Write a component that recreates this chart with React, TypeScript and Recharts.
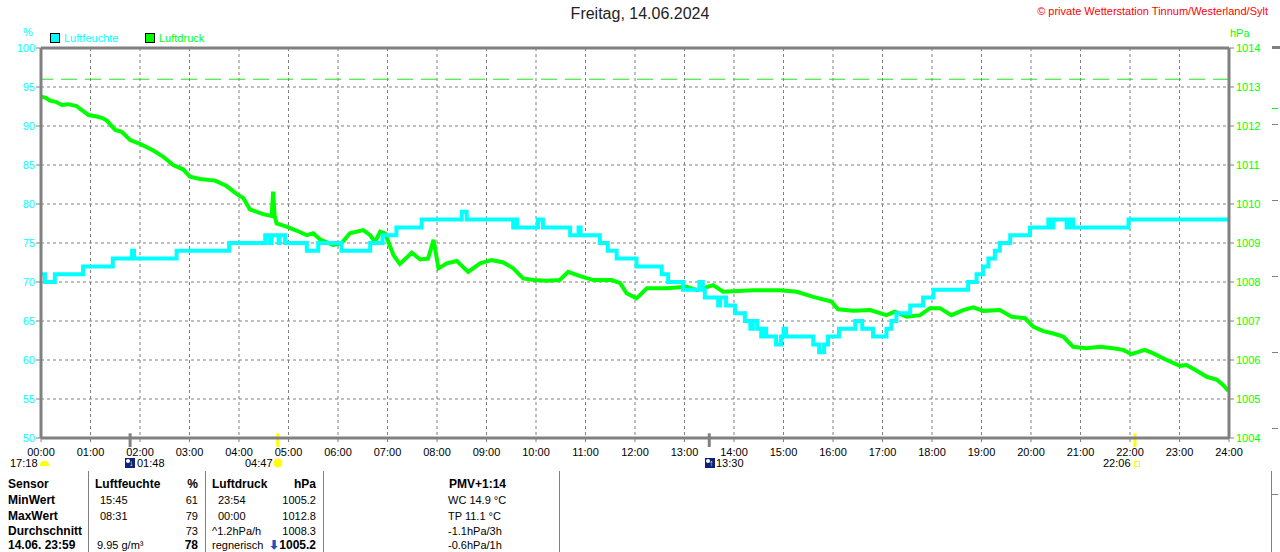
import React from 'react';
import { LineChart, Line, XAxis, YAxis, CartesianGrid, ReferenceLine } from 'recharts';

// humidity (%) steps: hour of day -> value
const humTimes = [
  0, 0.08, 0.28, 0.85, 1.45, 1.84, 1.88, 2.74, 3.8, 4.53, 4.62, 4.66, 4.8, 4.82, 4.93, 5.37, 5.6, 6.07,
  6.65, 6.9, 7.18, 7.69, 8.5, 8.6, 9.54, 9.58, 9.62, 10.04, 10.14, 10.69, 10.86, 10.9, 11.29, 11.45,
  11.63, 12.03, 12.54, 12.67, 12.97, 13.3, 13.37, 13.41, 13.68, 13.72, 13.84, 14.02, 14.22, 14.33,
  14.38, 14.47, 14.55, 14.6, 14.65, 14.85, 14.95, 15.0, 15.05, 15.6, 15.72, 15.82, 15.9, 16.12, 16.45,
  16.59, 16.81, 17.08, 17.18, 17.28, 17.56, 17.82, 18.03, 18.73, 18.9, 19.03, 19.14, 19.27, 19.37,
  19.58, 19.98, 20.35, 20.4, 20.45, 20.72, 20.78, 20.85, 21.97, 24,
];
const humValues = [
  71, 70, 71, 72, 73, 74, 73, 74, 75, 76, 75, 76, 75, 76, 75, 74, 75, 74,
  75, 76, 77, 78, 79, 78, 77, 78, 77, 78, 77, 76, 77, 76, 75, 74,
  73, 72, 71, 70, 69, 70, 69, 68, 67, 68, 67, 66, 65, 64,
  65, 64, 63, 64, 63, 62, 63, 64, 63, 62, 61, 62, 63, 64, 65,
  64, 63, 64, 65, 66, 67, 68, 69, 70, 71, 72, 73, 74, 75,
  76, 77, 78, 77, 78, 77, 78, 77, 78, 78,
];

// air pressure (hPa)
const presTimes = [
  0, 0.1, 0.18, 0.3, 0.42, 0.55, 0.72, 0.8, 0.96, 1.1, 1.23, 1.33, 1.5, 1.63, 1.8, 2.0, 2.15, 2.27,
  2.47, 2.67, 2.87, 3.01, 3.21, 3.52, 3.75, 3.95, 4.09, 4.22, 4.49, 4.66, 4.69, 4.72, 4.76, 4.96,
  5.16, 5.37, 5.5, 5.64, 5.9, 6.07, 6.24, 6.51, 6.65, 6.75, 6.85, 6.95, 7.12, 7.25, 7.49, 7.66, 7.82,
  7.93, 8.03, 8.2, 8.4, 8.63, 8.87, 9.1, 9.34, 9.54, 9.74, 9.95, 10.22, 10.48, 10.65, 10.89, 11.16,
  11.53, 11.7, 11.83, 12.03, 12.24, 12.64, 13.04, 13.25, 13.58, 13.78, 14.39, 14.93, 15.27, 15.6,
  15.97, 16.1, 16.41, 16.75, 17.08, 17.25, 17.49, 17.76, 17.96, 18.16, 18.39, 18.63, 18.83, 19.04,
  19.37, 19.61, 19.88, 20.05, 20.25, 20.45, 20.65, 20.85, 21.12, 21.39, 21.66, 21.86, 22.03, 22.3,
  22.47, 22.74, 23.01, 23.14, 23.34, 23.55, 23.75, 23.88, 23.99,
];
const presValues = [
  1012.75, 1012.72, 1012.65, 1012.62, 1012.54, 1012.56, 1012.51, 1012.43, 1012.28, 1012.25, 1012.21,
  1012.14, 1011.9, 1011.85, 1011.64, 1011.54, 1011.45, 1011.37, 1011.21, 1011.0, 1010.89, 1010.7,
  1010.64, 1010.6, 1010.46, 1010.26, 1010.15, 1009.86, 1009.74, 1009.69, 1010.32, 1009.7, 1009.5,
  1009.42, 1009.32, 1009.2, 1009.25, 1009.09, 1008.95, 1008.99, 1009.25, 1009.33, 1009.2, 1009.03,
  1009.29, 1009.25, 1008.69, 1008.46, 1008.75, 1008.58, 1008.6, 1009.08, 1008.35, 1008.48, 1008.54,
  1008.26, 1008.48, 1008.56, 1008.5, 1008.35, 1008.09, 1008.05, 1008.03, 1008.05, 1008.26, 1008.15,
  1008.05, 1008.05, 1007.97, 1007.71, 1007.58, 1007.84, 1007.84, 1007.88, 1007.79, 1007.92, 1007.75,
  1007.79, 1007.79, 1007.75, 1007.62, 1007.5, 1007.3, 1007.26, 1007.28, 1007.15, 1007.24, 1007.11,
  1007.15, 1007.33, 1007.33, 1007.15, 1007.28, 1007.35, 1007.26, 1007.28, 1007.11, 1007.07, 1006.85,
  1006.74, 1006.68, 1006.6, 1006.34, 1006.3, 1006.34, 1006.3, 1006.26, 1006.15, 1006.26, 1006.17,
  1006.0, 1005.85, 1005.87, 1005.73, 1005.57, 1005.5, 1005.36, 1005.21,
];

const hourTicks = [0, 1, 2, 3, 4, 5, 6, 7, 8, 9, 10, 11, 12, 13, 14, 15, 16, 17, 18, 19, 20, 21, 22, 23, 24];
const humTicks = [50, 55, 60, 65, 70, 75, 80, 85, 90, 95, 100];
const presTicks = [1004, 1005, 1006, 1007, 1008, 1009, 1010, 1011, 1012, 1013, 1014];

// moon / sun events (hour of day)
const moonEvents = [1.8, 13.5];
const sunEvents = [4.783, 22.1];
const presRefLevel = 1013.2;

const humData = humTimes.map((t, i) => ({ t, v: humValues[i] }));
const presData = presTimes.map((t, i) => ({ t, v: presValues[i] }));

const GRAY = '#808080';
const CYAN = '#00ffff';
const GREEN = '#00ff00';
const FONT = '"Liberation Sans", Arial, sans-serif';

const fmtHour = (h: number) => (h < 10 ? '0' + h : '' + h) + ':00';

const txt = (left: number, top: number, s: React.ReactNode, extra: React.CSSProperties = {}) => (
  <div style={{ position: 'absolute', left, top, fontSize: 11, lineHeight: '14px', whiteSpace: 'nowrap', ...extra }}>{s}</div>
);
const rtxt = (right: number, top: number, s: React.ReactNode, extra: React.CSSProperties = {}) => (
  <div style={{ position: 'absolute', right: 1280 - right, top, fontSize: 11, lineHeight: '14px', whiteSpace: 'nowrap', textAlign: 'right', ...extra }}>{s}</div>
);

const MoonIcon = ({ left, up }: { left: number; up: boolean }) => (
  <div style={{ position: 'absolute', left, top: 458, width: 10, height: 10, background: '#102080' }}>
    <div style={{ position: 'absolute', left: 1, top: 1, width: 4, height: 4, borderRadius: 2, background: '#fff' }} />
    <div style={{ position: 'absolute', left: 4, top: 0, fontSize: 9, lineHeight: '10px', color: '#ffff00', fontWeight: 'bold' }}>{up ? '↑' : '↓'}</div>
  </div>
);

const App: React.FC = () => {
  const rows = [477, 493, 509, 524, 538];
  const bold: React.CSSProperties = { fontWeight: 'bold', fontSize: 12 };
  return (
    <div style={{ position: 'absolute', left: 0, top: 0, width: 1280, height: 552, overflow: 'hidden', background: '#fff', fontFamily: FONT, color: '#000' }}>
      <LineChart width={1280} height={552} margin={{ top: 48, right: 0, left: 0, bottom: 94 }}>
        <CartesianGrid yAxisId="left" stroke={GRAY} strokeDasharray="3 3" horizontalValues={humTicks} verticalValues={hourTicks} />
        <XAxis
          type="number"
          dataKey="t"
          domain={[0, 24]}
          ticks={hourTicks}
          tickFormatter={fmtHour}
          height={20}
          allowDataOverflow
          axisLine={{ stroke: GRAY, strokeWidth: 3 }}
          tickLine={{ stroke: GRAY }}
          tickSize={4}
          tickMargin={6}
          tick={{ fill: '#000', fontSize: 11, fontFamily: FONT }}
          interval={0}
        />
        <YAxis
          yAxisId="left"
          domain={[50, 100]}
          ticks={humTicks}
          width={41}
          allowDataOverflow
          axisLine={{ stroke: GRAY, strokeWidth: 3 }}
          tickLine={{ stroke: GRAY }}
          tickSize={5}
          tickMargin={1}
          tick={{ fill: CYAN, fontSize: 11, fontFamily: FONT }}
          interval={0}
        />
        <YAxis
          yAxisId="right"
          orientation="right"
          domain={[1004, 1014]}
          ticks={presTicks}
          width={51}
          allowDataOverflow
          axisLine={{ stroke: GRAY, strokeWidth: 3 }}
          tickLine={{ stroke: GRAY }}
          tickSize={5}
          tickMargin={2}
          tick={{ fill: GREEN, fontSize: 11, fontFamily: FONT }}
          interval={0}
        />
        <ReferenceLine yAxisId="left" y={100} stroke={GRAY} strokeWidth={3} />
        <ReferenceLine yAxisId="right" y={presRefLevel} stroke="#22dd22" strokeDasharray="16 8" />
        <Line
          yAxisId="right"
          data={presData}
          dataKey="v"
          type="linear"
          stroke={GREEN}
          strokeWidth={4}
          dot={false}
          isAnimationActive={false}
        />
        <Line
          yAxisId="left"
          data={humData}
          dataKey="v"
          type="stepAfter"
          stroke={CYAN}
          strokeWidth={4}
          dot={false}
          isAnimationActive={false}
        />
        {moonEvents.map((t) => (
          <ReferenceLine
            key={'m' + t}
            yAxisId="left"
            ifOverflow="visible"
            segment={[{ x: t, y: 50.6 }, { x: t, y: 48.85 }]}
            stroke={GRAY}
            strokeWidth={3}
          />
        ))}
        {sunEvents.map((t) => (
          <ReferenceLine
            key={'s' + t}
            yAxisId="left"
            ifOverflow="visible"
            segment={[{ x: t, y: 50.6 }, { x: t, y: 48.85 }]}
            stroke="#ffff00"
            strokeWidth={3}
          />
        ))}
      </LineChart>

      {/* title + header */}
      <div style={{ position: 'absolute', left: 0, width: 1280, top: 5, textAlign: 'center', fontSize: 16, color: '#222' }}>Freitag, 14.06.2024</div>
      {rtxt(1268, 4, '© private Wetterstation Tinnum/Westerland/Sylt', { color: '#ff0000' })}
      {txt(23, 25, '%', { color: CYAN })}
      <div style={{ position: 'absolute', left: 50, top: 33, width: 8, height: 8, background: CYAN, border: '1px solid #000' }} />
      {txt(64, 31, 'Luftfeuchte', { color: CYAN })}
      <div style={{ position: 'absolute', left: 145, top: 33, width: 8, height: 8, background: GREEN, border: '1px solid #000' }} />
      {txt(159, 31, 'Luftdruck', { color: GREEN })}
      {txt(1230, 26, 'hPa', { color: GREEN })}

      {/* events under the axis */}
      {txt(10, 456, '17:18')}
      <div style={{ position: 'absolute', left: 40, top: 461, width: 9, height: 5, borderRadius: '5px 5px 1px 1px', background: '#ffff00' }} />
      <MoonIcon left={125} up={false} />
      {txt(137, 456, '01:48')}
      {txt(245, 456, '04:47')}
      <div style={{ position: 'absolute', left: 274, top: 459, width: 8, height: 8, borderRadius: 4, background: '#ffff00', boxShadow: '0 0 2px #ffdd00' }} />
      <MoonIcon left={705} up />
      {txt(716, 456, '13:30')}
      {txt(1103, 456, '22:06')}
      <div style={{ position: 'absolute', left: 1134, top: 461, width: 4, height: 4, border: '1px solid #ffff00' }} />

      {/* table separators */}
      {[88, 205, 323, 559, 1271].map((x) => (
        <div key={x} style={{ position: 'absolute', left: x, top: 471, width: 1, height: 81, background: GRAY }} />
      ))}

      {/* stub of the neighbouring chart */}
      <div style={{ position: 'absolute', left: 1272, top: 46, width: 8, height: 3, background: GRAY }} />
      <div style={{ position: 'absolute', left: 1272, top: 108, width: 6, height: 1, background: GREEN }} />
      {[124, 200, 276, 352, 428, 494].map((y) => (
        <div key={y} style={{ position: 'absolute', left: 1272, top: y, width: 6, height: 1, borderTop: '1px dashed ' + GRAY }} />
      ))}

      {/* stats table */}
      {txt(8, rows[0], 'Sensor', bold)}
      {txt(95, rows[0], 'Luftfeuchte', bold)}
      {rtxt(198, rows[0], '%', bold)}
      {txt(212, rows[0], 'Luftdruck', bold)}
      {rtxt(316, rows[0], 'hPa', bold)}
      {txt(449, rows[0], 'PMV+1:14', bold)}

      {txt(8, rows[1], 'MinWert', bold)}
      {txt(100, rows[1], '15:45')}
      {rtxt(198, rows[1], '61')}
      {txt(218, rows[1], '23:54')}
      {rtxt(316, rows[1], '1005.2')}
      {txt(448, rows[1], 'WC 14.9 °C')}

      {txt(8, rows[2], 'MaxWert', bold)}
      {txt(100, rows[2], '08:31')}
      {rtxt(198, rows[2], '79')}
      {txt(218, rows[2], '00:00')}
      {rtxt(316, rows[2], '1012.8')}
      {txt(448, rows[2], 'TP 11.1 °C')}

      {txt(8, rows[3], 'Durchschnitt', bold)}
      {rtxt(198, rows[3], '73')}
      {txt(212, rows[3], '^1.2hPa/h')}
      {rtxt(316, rows[3], '1008.3')}
      {txt(448, rows[3], '-1.1hPa/3h')}

      {txt(8, rows[4], '14.06. 23:59', bold)}
      {txt(97, rows[4], '9.95 g/m³')}
      {rtxt(198, rows[4], '78', bold)}
      {txt(212, rows[4], 'regnerisch')}
      {rtxt(316, rows[4], <span><span style={{ color: '#2050c0' }}>⬇</span>1005.2</span>, bold)}
      {txt(448, rows[4], '-0.6hPa/1h')}
    </div>
  );
};

export default App;
